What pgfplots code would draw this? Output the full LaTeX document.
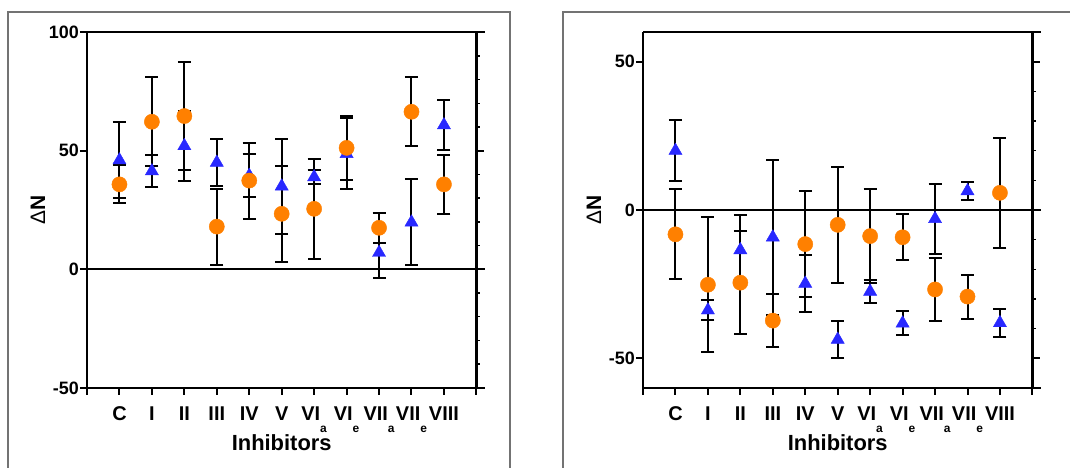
\documentclass[border=0pt]{standalone}
\usepackage{pgfplots}
\pgfplotsset{compat=1.18}
\usepackage{pgfplotstable}
\usepackage{fontspec}
\setmainfont{Liberation Sans}
\definecolor{myorange}{RGB}{255,128,0}
\definecolor{myblue}{RGB}{40,40,255}

\pgfplotstableread{
x b be o oe
0 46 16 35.8 8
1 41.4 6.7 62.2 18.7
2 52 14.6 64.6 22.7
3 45 10 18 16
4 39.5 9 37.4 16
5 35 20 23.4 20.3
6 38.9 3 25.5 21
7 48.7 15 51.2 13.5
8 7 10.8 17.5 6.3
9 19.8 18.1 66.4 14.6
10 60.8 10.4 35.8 12.4
}\leftdata

\pgfplotstableread{
x b be o oe
0 20 10.3 -8.2 15.2
1 -33.8 3.3 -25.2 22.7
2 -13.5 11.8 -24.5 17.4
3 -9.2 26.1 -37.3 8.85
4 -24.8 9.6 -11.5 18
5 -43.7 6.3 -5.0 19.6
6 -27.5 4 -8.8 15.8
7 -38.2 4 -9.2 7.7
8 -3.0 11.8 -26.8 10.5
9 6.4 3 -29.2 7.4
10 -38.1 4.8 5.8 18.6
}\rightdata

\newcommand\sub[1]{\raisebox{-12bp}{\fontsize{12}{12}\selectfont #1}}

\pgfplotsset{
 panel/.style={
  scale only axis, width=397.5bp, height=355.8bp,
  xmin=-1, xmax=11.25,
  axis x line=box, axis y line=left,
  axis line style={line width=2.3bp, -},
  y axis line style={-},
  xtick={-1,...,11},
  xticklabels={,C,I,II,III,IV,V,VI\sub{a},VI\sub{e},VII\sub{a},VII\sub{e},VIII,},
  xtick pos=left, xticklabel pos=left,
  tick align=outside, major tick length=7bp,
  tick style={line width=2bp, black},
  ticklabel style={font=\bfseries\fontsize{18}{18}\selectfont},
  xticklabel style={anchor=north, text height=14bp, font=\bfseries\fontsize{20}{20}\selectfont, yshift=-8bp},
  yticklabel style={inner sep=1bp},
  clip=false,
  xlabel={Inhibitors},
  xlabel style={font=\bfseries\fontsize{22}{22}\selectfont, at={(rel axis cs:0.4898,0)}, anchor=center, yshift=-55bp},
  ylabel={{\mdseries Δ}N},
  ylabel style={font=\bfseries\fontsize{21}{21}\selectfont, at={([xshift=-49bp]rel axis cs:0,0.5)}, anchor=center},
 },
 ebars/.style={only marks, mark=*, mark size=0bp, black, forget plot,
   error bars/.cd, y dir=both, y explicit, error mark=-,
   error bar style={line width=2bp, black, solid},
   error mark options={rotate=90, line width=2bp, black, mark size=6.5bp, solid}},
 bluem/.style={only marks, mark=triangle*, mark size=7.6bp, color=myblue},
 orangem/.style={only marks, mark=*, mark size=7.6bp, color=myorange},
}

\begin{document}
\begin{tikzpicture}
\useasboundingbox (0,0) rectangle (1070bp,468bp);
\draw[black!55, line width=1.4bp] (8bp,-5bp) -- (8bp,456bp) -- (510bp,456bp) -- (510bp,-5bp);
\draw[black!55, line width=1.4bp] (563bp,-5bp) -- (563bp,456bp) -- (1080bp,456bp);

\begin{axis}[panel, at={(87bp,80.1bp)}, anchor=south west,
  ymin=-50, ymax=100, ytick={-50,0,50,100}, yticklabels={-50,0,50,100}]
\addplot[black, line width=2bp, forget plot] coordinates {(-1,0) (11.25,0)};
\addplot[ebars] table[x=x, y=b, y error=be]{\leftdata};
\addplot[ebars] table[x=x, y=o, y error=oe]{\leftdata};
\addplot[bluem] table[x=x, y=b]{\leftdata};
\addplot[orangem] table[x=x, y=o]{\leftdata};
\draw[line width=2.3bp] (axis cs:11,-50) -- (axis cs:11,100);
\pgfplotsinvokeforeach{0,50}{\draw[line width=2bp] (axis cs:11,#1) -- ++(8bp,0bp);}
\pgfplotsinvokeforeach{-40,-30,-20,-10,10,20,30,40,60,70,80,90}{\draw[line width=1.4bp] (axis cs:11,#1) -- ++(4bp,0bp);}
\end{axis}

\begin{axis}[panel, at={(643bp,80.1bp)}, anchor=south west,
  ymin=-60, ymax=60, ytick={-50,0,50}, yticklabels={-50,0,50}]
\addplot[black, line width=2bp, forget plot] coordinates {(-1,0) (11.25,0)};
\addplot[ebars] table[x=x, y=b, y error=be]{\rightdata};
\addplot[ebars] table[x=x, y=o, y error=oe]{\rightdata};
\addplot[bluem] table[x=x, y=b]{\rightdata};
\addplot[orangem] table[x=x, y=o]{\rightdata};
\draw[line width=2.3bp] (axis cs:11,-60) -- (axis cs:11,60);
\pgfplotsinvokeforeach{-50,0,50}{\draw[line width=2bp] (axis cs:11,#1) -- ++(8bp,0bp);}
\pgfplotsinvokeforeach{-40,-30,-20,-10,10,20,30,40}{\draw[line width=1.4bp] (axis cs:11,#1) -- ++(4bp,0bp);}
\end{axis}
\end{tikzpicture}
\end{document}
